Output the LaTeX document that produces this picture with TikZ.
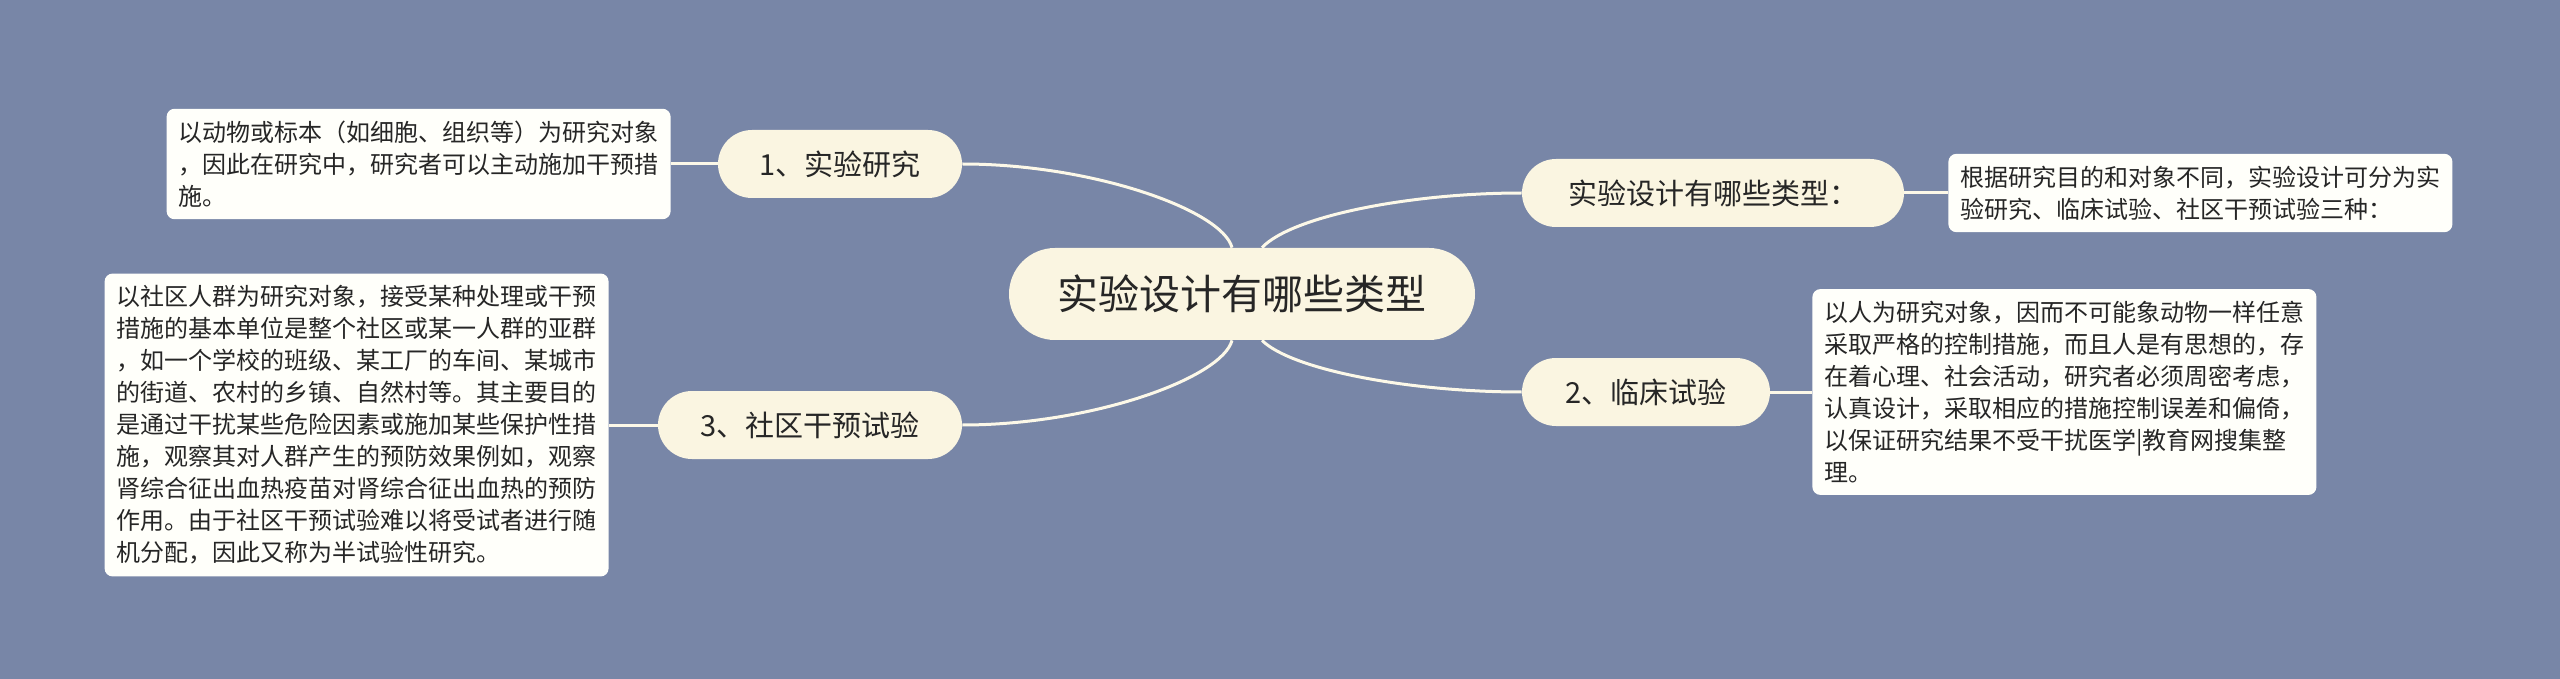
\documentclass[tikz,border=0pt]{standalone}
\usepackage{fontspec}
\setmainfont{Noto Sans CJK SC}
\definecolor{bgblue}{HTML}{7886A7}
\definecolor{topicfill}{HTML}{FAF5E1}
\definecolor{notefill}{HTML}{FFFFFA}
\definecolor{linkcol}{HTML}{FCF8E8}
\definecolor{inkcol}{HTML}{262626}
\begin{document}
\begin{tikzpicture}[x=0.5pt,y=-0.5pt,%
% common options for the topics:
topic/.style = {fill=topicfill, rounded corners=17pt, minimum height=34pt,
            inner sep=0, text=inkcol, font=\fontsize{14.5pt}{17pt}\selectfont},
% common options for the notes:
note/.style = {fill=notefill, rounded corners=4pt, text width=240pt, align=left,
            inner xsep=6pt, inner ysep=6pt, text=inkcol,
            font=\fontsize{12pt}{16pt}\selectfont},
link/.style = {draw=linkcol, line width=1.5pt}]
\fill[bgblue] (0,0) rectangle (2560,679);
\useasboundingbox (0,0) rectangle (2560,679);
\node[topic,minimum width=233pt,minimum height=46pt,rounded corners=23pt,
  font=\fontsize{20.5pt}{24pt}\selectfont] (T0) at (1242,294) {实验设计有哪些类型};
\node[topic,minimum width=122pt] (T1) at (840,164) {1、实验研究};
\node[topic,minimum width=152pt] (T3) at (810,425) {3、社区干预试验};
\node[topic,minimum width=191pt] (TR) at (1713,193) {实验设计有哪些类型：};
\node[topic,minimum width=124pt] (T2) at (1646,392) {2、临床试验};
\node[note,anchor=east] (N1) at (671,164) {以动物或标本（如细胞、组织等）为研究对象\\，因此在研究中，研究者可以主动施加干预措\\施。};
\node[note,anchor=east] (N3) at (609,425) {以社区人群为研究对象，接受某种处理或干预\\措施的基本单位是整个社区或某一人群的亚群\\，如一个学校的班级、某工厂的车间、某城市\\的街道、农村的乡镇、自然村等。其主要目的\\是通过干扰某些危险因素或施加某些保护性措\\施，观察其对人群产生的预防效果例如，观察\\肾综合征出血热疫苗对肾综合征出血热的预防\\作用。由于社区干预试验难以将受试者进行随\\机分配，因此又称为半试验性研究。};
\node[note,anchor=west] (NR) at (1948,193) {根据研究目的和对象不同，实验设计可分为实\\验研究、临床试验、社区干预试验三种：};
\node[note,anchor=west] (N2) at (1812,392) {以人为研究对象，因而不可能象动物一样任意\\采取严格的控制措施，而且人是有思想的，存\\在着心理、社会活动，研究者必须周密考虑，\\认真设计，采取相应的措施控制误差和偏倚，\\以保证研究结果不受干扰医学|教育网搜集整\\理。};
\draw[link] (T1.east) .. controls (1092,164) and (1222,210) .. ([xshift=-5pt]T0.north);
\draw[link] (T3.east) .. controls (1092,425) and (1222,378) .. ([xshift=-5pt]T0.south);
\draw[link] (TR.west) .. controls (1410,193) and (1292,216) .. ([xshift=10pt]T0.north);
\draw[link] (T2.west) .. controls (1410,392) and (1292,370) .. ([xshift=10pt]T0.south);
\draw[link] (T1.west) -- (N1.east);
\draw[link] (T3.west) -- (N3.east);
\draw[link] (TR.east) -- (NR.west);
\draw[link] (T2.east) -- (N2.west);
\end{tikzpicture}
\end{document}
